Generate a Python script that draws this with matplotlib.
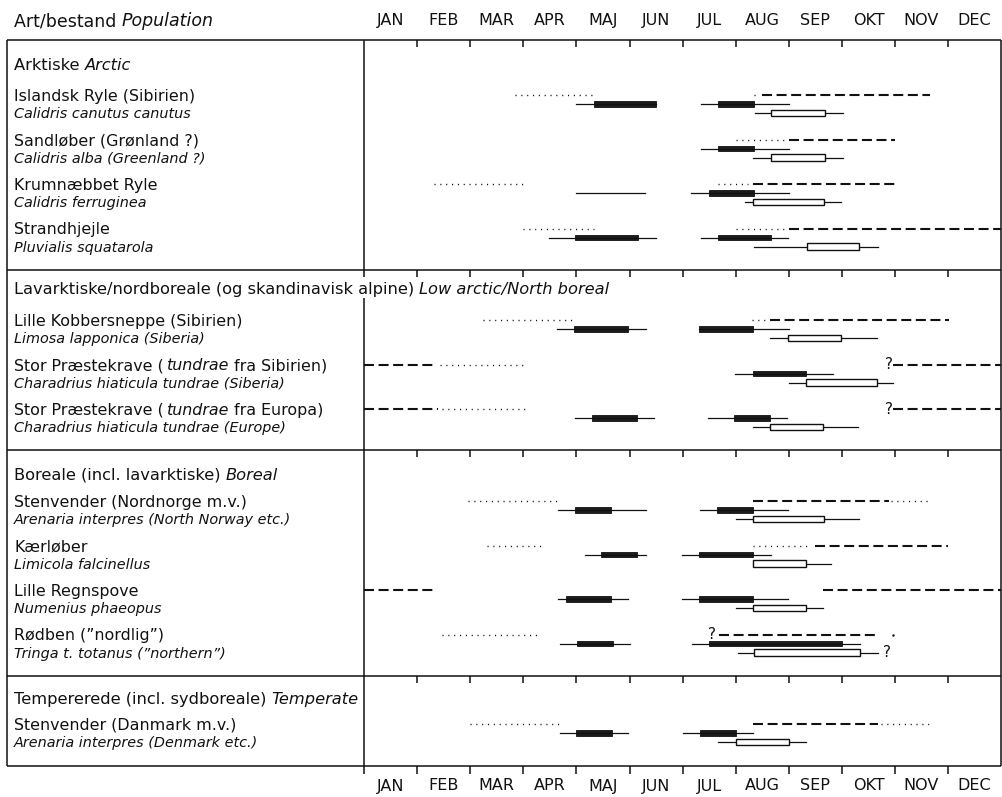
import matplotlib
matplotlib.use("Agg")
import matplotlib.pyplot as plt

plt.rcParams['font.family'] = ['DejaVu Sans']

# ---- data -------------------------------------------------------------
months = ["JAN", "FEB", "MAR", "APR", "MAJ", "JUN",
          "JUL", "AUG", "SEP", "OKT", "NOV", "DEC"]

groups = [
    [("Arktiske ", "normal"), ("Arctic", "italic")],
    [("Lavarktiske/nordboreale (og skandinavisk alpine) ", "normal"),
     ("Low arctic/North boreal", "italic")],
    [("Boreale (incl. lavarktiske) ", "normal"), ("Boreal", "italic")],
    [("Tempererede (incl. sydboreale) ", "normal"), ("Temperate", "italic")],
]
group_sizes = [4, 3, 4, 1]

species = [
    [("Islandsk Ryle (Sibirien)", "normal")],
    [("Sandløber (Grønland ?)", "normal")],
    [("Krumnæbbet Ryle", "normal")],
    [("Strandhjejle", "normal")],
    [("Lille Kobbersneppe (Sibirien)", "normal")],
    [("Stor Præstekrave (\u2009", "normal"), ("tundrae", "italic"), (" fra Sibirien)", "normal")],
    [("Stor Præstekrave (\u2009", "normal"), ("tundrae", "italic"), (" fra Europa)", "normal")],
    [("Stenvender (Nordnorge m.v.)", "normal")],
    [("Kærløber", "normal")],
    [("Lille Regnspove", "normal")],
    [("Rødben (\u201dnordlig\u201d)", "normal")],
    [("Stenvender (Danmark m.v.)", "normal")],
]
latin = [
    "Calidris canutus canutus",
    "Calidris alba (Greenland ?)",
    "Calidris ferruginea",
    "Pluvialis squatarola",
    "Limosa lapponica (Siberia)",
    "Charadrius hiaticula tundrae (Siberia)",
    "Charadrius hiaticula tundrae (Europe)",
    "Arenaria interpres (North Norway etc.)",
    "Limicola falcinellus",
    "Numenius phaeopus",
    "Tringa t. totanus (\u201dnorthern\u201d)",
    "Arenaria interpres (Denmark etc.)",
]

# (species row, start month, end month)
dotted = [
    (0, 2.84, 4.34), (0, 7.34, 7.40),
    (1, 7.0, 7.96),
    (2, 1.31, 3.01), (2, 6.67, 7.23),
    (3, 2.99, 4.34), (3, 7.0, 7.96),
    (4, 2.24, 3.96), (4, 7.30, 7.65),
    (5, 1.43, 3.01),
    (6, 1.47, 3.05),
    (7, 1.96, 3.65), (7, 9.92, 10.68),
    (8, 2.31, 3.33), (8, 7.32, 8.38),
    (10, 1.46, 3.33),
    (11, 1.99, 3.69), (11, 9.74, 10.69),
]
dashed = [
    (0, 7.50, 10.66),
    (1, 8.0, 10.0),
    (2, 7.33, 10.0),
    (3, 8.0, 12.0),
    (4, 7.65, 11.01),
    (5, 0.0, 1.35), (5, 9.97, 12.0),
    (6, 0.0, 1.39), (6, 9.97, 12.0),
    (7, 7.32, 9.88),
    (8, 8.49, 11.0),
    (9, 0.0, 1.31), (9, 8.65, 12.0),
    (10, 6.68, 9.66),
    (11, 7.33, 9.68),
]
# filled bars: (row, whisker start, bar start, bar end, whisker end)
adults = [
    (0, 4.0, 4.34, 5.50, 5.50), (0, 6.34, 6.67, 7.34, 8.01),
    (1, 6.34, 6.67, 7.34, 8.01),
    (2, 6.15, 6.49, 7.34, 8.01),
    (3, 3.49, 3.98, 5.16, 5.50), (3, 6.34, 6.67, 7.67, 7.98),
    (4, 3.63, 3.96, 4.98, 5.31), (4, 6.31, 6.31, 7.32, 8.0),
    (5, 6.99, 7.32, 8.33, 8.83),
    (6, 3.98, 4.30, 5.14, 5.47), (6, 6.48, 6.97, 7.64, 7.96),
    (7, 3.65, 3.97, 4.65, 5.32), (7, 6.33, 6.65, 7.32, 7.99),
    (8, 4.17, 4.47, 5.15, 5.31), (8, 5.98, 6.31, 7.32, 7.66),
    (9, 3.65, 3.80, 4.65, 4.98), (9, 5.98, 6.31, 7.32, 7.99),
    (10, 3.69, 4.01, 4.68, 5.0), (10, 6.17, 6.50, 9.01, 9.34),
    (11, 3.69, 4.0, 4.67, 4.98), (11, 6.0, 6.33, 7.0, 7.33),
]
thin_only = [(2, 4.0, 5.29)]
# open bars: (row, whisker start, bar start, bar end, whisker end)
juveniles = [
    (0, 7.36, 7.67, 8.68, 9.03),
    (1, 7.33, 7.67, 8.68, 9.03),
    (2, 7.17, 7.33, 8.67, 8.98),
    (3, 7.34, 8.35, 9.33, 9.68),
    (4, 7.65, 7.98, 8.99, 9.66),
    (5, 8.0, 8.32, 9.66, 9.97),
    (6, 7.32, 7.64, 8.64, 9.30),
    (7, 7.0, 7.32, 8.67, 9.33),
    (8, 7.32, 7.32, 8.32, 8.80),
    (9, 7.0, 7.32, 8.32, 8.65),
    (10, 7.04, 7.35, 9.35, 9.68),
    (11, 6.67, 7.0, 8.0, 8.33),
]
# question marks: (row, month, line 0=top line, 2=open bar line)
queries = [(5, 9.89, 0), (6, 9.89, 0), (10, 6.56, 0), (10, 9.84, 2)]
end_dots = [(10, 9.97)]

# ---- layout (pixels, figure is 1003 x 797) ----------------------------
W, H = 1003, 797
x0_px, month_px = 364, 53.1          # Jan 1 and width of a month
box_left_px = 7
section_tops = [40, 270, 450, 676]
box_bottom = 766
header_y = [64, 288, 474, 698]
first_row_y = [95, 320, 501, 724]
row_step = 44.5

row_y = []
for g, n in enumerate(group_sizes):
    for i in range(n):
        row_y.append(first_row_y[g] + i * row_step)

fig = plt.figure(figsize=(W / 100, H / 100), dpi=100)
ax = fig.add_axes([0, 0, 1, 1])
ax.set_xlim(-x0_px / month_px, (W - x0_px) / month_px)
ax.set_ylim(H, 0)
ax.axis("off")

m_left = (box_left_px - x0_px) / month_px
ink = "#111111"

# frame and section lines
ax.vlines([m_left, 12], section_tops[0], box_bottom, color=ink, lw=1.1)
ax.hlines(section_tops + [box_bottom], m_left, 12, color=ink, lw=1.1)
# divider between names and chart (broken by the long header)
ax.vlines(0, section_tops[0], section_tops[1] + 7, color=ink, lw=1.1)
ax.vlines(0, header_y[1] + 10, box_bottom + 8, color=ink, lw=1.1)
# month ticks
for top in section_tops:
    ax.vlines(range(1, 12), top, top + 7, color=ink, lw=1.1)
ax.vlines(range(1, 12), box_bottom, box_bottom + 8, color=ink, lw=1.1)

for i, m in enumerate(months):
    ax.text(i + 0.5, 20, m, ha="center", va="center", fontsize=11.5, color=ink)
    ax.text(i + 0.5, 786, m, ha="center", va="center", fontsize=11.5, color=ink)

renderer = fig.canvas.get_renderer()


def rich(x, y, parts, size):
    base = y + 0.36 * size * 100 / 72
    for s, style in parts:
        t = ax.text(x, base, s, fontsize=size, style=style, ha="left",
                    va="baseline", color=ink)
        bb = t.get_window_extent(renderer)
        x = ax.transData.inverted().transform((bb.x1, bb.y0))[0]


tx = m_left + 7 / month_px
rich(tx, 20, [("Art/bestand ", "normal"), ("Population", "italic")], 12.5)
for g, parts in enumerate(groups):
    rich(tx, header_y[g], parts, 11.7)
for r, parts in enumerate(species):
    rich(tx, row_y[r], parts, 11.4)
    rich(tx, row_y[r] + 18, [(latin[r], "italic")], 10.4)

# season lines
for r, a, b in dotted:
    ax.plot([a, b], [row_y[r]] * 2, color=ink, lw=1.0,
            linestyle=(0, (0.8, 3.4)))
for r, a, b in dashed:
    ax.plot([a, b], [row_y[r]] * 2, color=ink, lw=1.5,
            linestyle=(0, (4.8, 2.2)))
for r, a, b in thin_only:
    ax.plot([a, b], [row_y[r] + 9] * 2, color=ink, lw=0.9)
for r, w0, b0, b1, w1 in adults:
    y = row_y[r] + 9
    ax.plot([w0, w1], [y, y], color=ink, lw=0.9)
    ax.barh(y, b1 - b0, left=b0, height=5.5, color="#1c1c1c",
            edgecolor=ink, lw=0.6)
for r, w0, b0, b1, w1 in juveniles:
    y = row_y[r] + 18
    ax.plot([w0, w1], [y, y], color=ink, lw=0.9)
    ax.barh(y, b1 - b0, left=b0, height=6.5, color="white",
            edgecolor=ink, lw=1.0, zorder=3)
for r, m, line in queries:
    ax.text(m, row_y[r] + line * 9, "?", ha="center", va="center",
            fontsize=11, color=ink)
for r, m in end_dots:
    ax.plot(m, row_y[r], marker=".", ms=1.5, color=ink)

fig.savefig("out.png", dpi=100)
